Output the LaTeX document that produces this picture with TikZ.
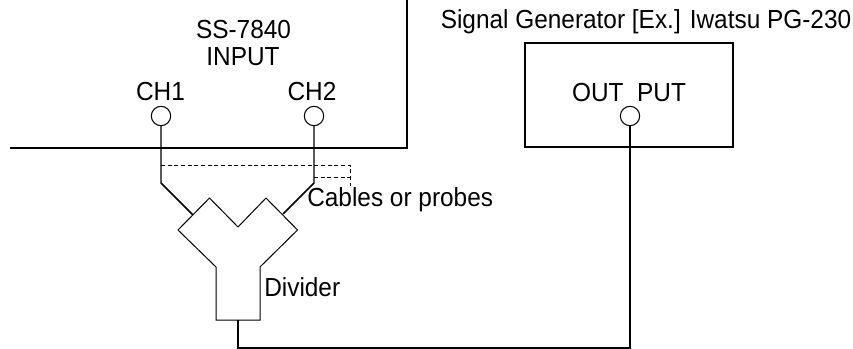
\documentclass[tikz,border=0pt]{standalone}
\usepackage{fontspec}
\setmainfont{Liberation Sans}
\begin{document}
\begin{tikzpicture}[x=0.75pt,y=-0.75pt,
  wire/.style={line width=1.1pt,line join=miter},
  thinwire/.style={line width=0.75pt,line join=miter},
  port/.style={circle,draw,line width=0.8pt,minimum size=14.5pt,inner sep=0pt,fill=white},
  altcable/.style={line width=0.5pt,dash pattern=on 3pt off 2pt},
  lbl/.style={font=\fontsize{18.3pt}{20.5pt}\selectfont,inner sep=0pt,anchor=base,yscale=1.07,transform shape},
  lbll/.style={lbl,anchor=base west}]
\useasboundingbox (0,0) rectangle (853,349);
% instrument outline
\coordinate (panelL) at (10,148);
\coordinate (panelC) at (407,148);
\coordinate (panelT) at (407,0);
\draw[wire] (panelL) -- (panelC) -- (panelT);
% signal generator
\node[draw,line width=1.1pt,minimum width=156pt,minimum height=78pt,inner sep=0pt] (gen) at (629,95) {};
% ports
\node[port] (ch1) at (161,116) {};
\node[port] (ch2) at (314,116) {};
\node[port] (out) at (630,116) {};
% divider
\coordinate (dL) at (193,215);
\coordinate (dR) at (283,214);
\coordinate (dB) at (238,320);
\draw[thinwire] (216,320) -- (216,267) -- (178,230) -- (209.5,198) -- (238,227) -- (266,198) -- (297.5,230) -- (260,267) -- (260,320) -- cycle;
% cables
\coordinate (k1) at (161,183);
\coordinate (k2) at (314,183);
\coordinate (b1) at (238,348);
\coordinate (b2) at (630,348);
\draw[wire] (ch1) -- (k1) -- (dL);
\draw[wire] (ch2) -- (k2) -- (dR);
\draw[wire] (dB) -- (b1) -- (b2) -- (out);
% dashed alternate cable
\coordinate (d1) at (161,165);
\coordinate (d2) at (350,165);
\coordinate (d3) at (350,186);
\coordinate (d4) at (314,177);
\coordinate (d5) at (350,177);
\draw[altcable] (d1) -- (d2) -- (d3);
\draw[altcable] (d4) -- (d5);
% labels
\node[lbl] (t1a) at (243.5,39) {SS-7840};
\node[lbl] (t1b) at (243,66) {INPUT};
\node[lbl] (t2) at (160.5,101) {CH1};
\node[lbl] (t3) at (312,101) {CH2};
\node[lbl] (t4) at (646,28.5) {Signal Generator [Ex.] Iwatsu PG-230};
\node[lbl] (t5) at (629,102) {OUT\ \ PUT};
\node[lbll] (t6) at (307,206) {Cables or probes};
\node[lbll] (t7) at (264,296) {Divider};
\end{tikzpicture}
\end{document}
